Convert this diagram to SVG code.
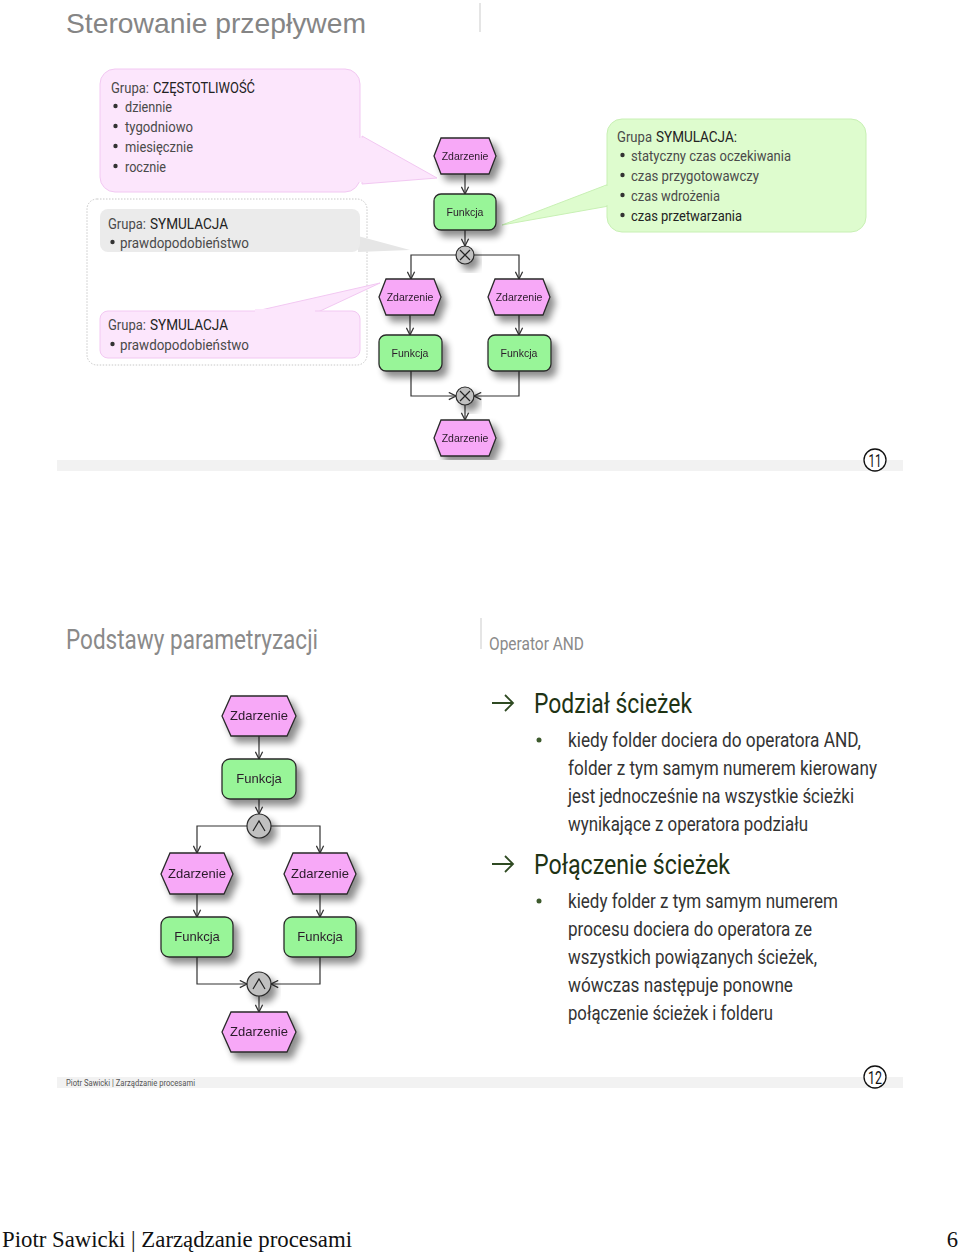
<svg xmlns="http://www.w3.org/2000/svg" width="960" height="1254" viewBox="0 0 960 1254">
<style>
.bg{fill:#ffffff}
.cond{font-family:Roboto,"Liberation Sans",sans-serif;fill:#4a4a4a;font-size:15px}
.dk{fill:#222}
.bu{fill:#333}
.ev{fill:#f7a8f7;stroke:#2a2a2a;stroke-width:1.3}
.fn{fill:#98f598;stroke:#2a2a2a;stroke-width:1.3}
.op{fill:#c0c0c0;stroke:#2a2a2a;stroke-width:1.2}
.lbl{font-family:"Liberation Sans",Arial,sans-serif;fill:#2a1a2a;text-anchor:middle}
.con{fill:none;stroke:#333333;stroke-width:1.2}
.sym{fill:none;stroke:#222;stroke-width:1.2}
.band{fill:#f2f2f2}
.body{font-family:Roboto,"Liberation Sans",sans-serif;font-size:21px;fill:#333}
.head{font-family:Roboto,"Liberation Sans",sans-serif;font-size:28px;fill:#1e3314}
</style>
<defs>
<filter id="sh" x="-30%" y="-30%" width="170%" height="180%">
<feGaussianBlur in="SourceAlpha" stdDeviation="3.5"/>
<feOffset dx="5" dy="6" result="b"/>
<feComponentTransfer><feFuncA type="linear" slope="0.45"/></feComponentTransfer>
<feMerge><feMergeNode/><feMergeNode in="SourceGraphic"/></feMerge>
</filter>
<marker id="ar" viewBox="0 0 10 10" refX="9" refY="5" markerWidth="9" markerHeight="9" markerUnits="userSpaceOnUse" orient="auto">
<path d="M1,1 L9,5 L1,9" fill="none" stroke="#333" stroke-width="1.4"/>
</marker>
</defs>
<rect class="bg" x="0" y="0" width="960" height="1254"/>

<!-- ===== Slide 11 ===== -->
<text x="66" y="33" font-family="Liberation Sans,Arial,sans-serif" font-size="28" fill="#858585" textLength="300" lengthAdjust="spacingAndGlyphs">Sterowanie przepływem</text>
<line x1="480" y1="3" x2="480" y2="32" stroke="#dddddd" stroke-width="1.5"/>

<g id="callout-czestotliwosc">
<path d="M362,136 L437,178 L362,184 Z" fill="#fce6fc" stroke="#f2c8f2" stroke-width="1"/>
<rect x="100" y="69" width="260" height="123" rx="15" fill="#fce6fc" stroke="#f2c8f2" stroke-width="1"/>
<rect x="355" y="138" width="8" height="44" fill="#fce6fc"/>
<text class="cond" x="111" y="93" textLength="38" lengthAdjust="spacingAndGlyphs">Grupa:</text>
<text class="cond dk" x="153" y="93" textLength="102" lengthAdjust="spacingAndGlyphs">CZĘSTOTLIWOŚĆ</text>
<circle class="bu" cx="115.5" cy="106" r="2.2"/><text class="cond" x="125" y="112" textLength="47" lengthAdjust="spacingAndGlyphs">dziennie</text>
<circle class="bu" cx="115.5" cy="126" r="2.2"/><text class="cond" x="125" y="132" textLength="68" lengthAdjust="spacingAndGlyphs">tygodniowo</text>
<circle class="bu" cx="115.5" cy="146" r="2.2"/><text class="cond" x="125" y="152" textLength="68" lengthAdjust="spacingAndGlyphs">miesięcznie</text>
<circle class="bu" cx="115.5" cy="166" r="2.2"/><text class="cond" x="125" y="172" textLength="41" lengthAdjust="spacingAndGlyphs">rocznie</text>
</g>

<g id="group-box">
<rect x="87" y="199" width="280" height="166" rx="10" fill="none" stroke="#c8c8c8" stroke-width="1" stroke-dasharray="1.5 1.5"/>
</g>

<g id="callout-symulacja-1">
<path d="M358,236 L410,250 L358,252 Z" fill="#e6e6e6"/>
<rect x="100" y="209" width="260" height="43" rx="8" fill="#ebebeb"/>
<text class="cond" x="108" y="229" textLength="38" lengthAdjust="spacingAndGlyphs">Grupa:</text>
<text class="cond dk" x="150" y="229" textLength="78" lengthAdjust="spacingAndGlyphs">SYMULACJA</text>
<circle class="bu" cx="112.5" cy="242" r="2.2"/><text class="cond" x="120" y="248" textLength="129" lengthAdjust="spacingAndGlyphs">prawdopodobieństwo</text>
</g>

<g id="callout-symulacja-2">
<path d="M252,312 L380,283 L318,312 Z" fill="#fce6fc" stroke="#f2c8f2" stroke-width="1"/>
<rect x="100" y="311" width="260" height="47" rx="8" fill="#fce6fc" stroke="#f2c8f2" stroke-width="1"/>
<rect x="255" y="309" width="60" height="5" fill="#fce6fc"/>
<text class="cond" x="108" y="330" textLength="38" lengthAdjust="spacingAndGlyphs">Grupa:</text>
<text class="cond dk" x="150" y="330" textLength="78" lengthAdjust="spacingAndGlyphs">SYMULACJA</text>
<circle class="bu" cx="112.5" cy="344" r="2.2"/><text class="cond" x="120" y="350" textLength="129" lengthAdjust="spacingAndGlyphs">prawdopodobieństwo</text>
</g>

<g id="callout-symulacja-3">
<path d="M609,184 L502,225 L609,206 Z" fill="#defcce" stroke="#c8f0b4" stroke-width="1"/>
<rect x="607" y="119" width="259" height="113" rx="15" fill="#defcce" stroke="#c8f0b4" stroke-width="1"/>
<rect x="604" y="186" width="8" height="19" fill="#defcce"/>
<text class="cond" x="617" y="142" textLength="35" lengthAdjust="spacingAndGlyphs">Grupa</text>
<text class="cond dk" x="656" y="142" textLength="81" lengthAdjust="spacingAndGlyphs">SYMULACJA:</text>
<circle class="bu" cx="622.5" cy="155" r="2.2"/><text class="cond" x="631" y="161" textLength="160" lengthAdjust="spacingAndGlyphs">statyczny czas oczekiwania</text>
<circle class="bu" cx="622.5" cy="175" r="2.2"/><text class="cond" x="631" y="181" textLength="128" lengthAdjust="spacingAndGlyphs">czas przygotowawczy</text>
<circle class="bu" cx="622.5" cy="195" r="2.2"/><text class="cond" x="631" y="201" textLength="89" lengthAdjust="spacingAndGlyphs">czas wdrożenia</text>
<circle class="bu" cx="622.5" cy="215" r="2.2"/><text class="cond dk" x="631" y="221" textLength="111" lengthAdjust="spacingAndGlyphs">czas przetwarzania</text>
</g>

<g id="connectors-top">
<line class="con" x1="465" y1="174" x2="465" y2="194" marker-end="url(#ar)"/>
<line class="con" x1="465" y1="230" x2="465" y2="246" marker-end="url(#ar)"/>
<path class="con" d="M456,255 H411 V279" marker-end="url(#ar)"/>
<path class="con" d="M474,255 H519 V279" marker-end="url(#ar)"/>
<line class="con" x1="410" y1="315" x2="410" y2="335" marker-end="url(#ar)"/>
<line class="con" x1="519" y1="315" x2="519" y2="335" marker-end="url(#ar)"/>
<path class="con" d="M411,371 V396 H456" marker-end="url(#ar)"/>
<path class="con" d="M519,371 V396 H474" marker-end="url(#ar)"/>
<line class="con" x1="465" y1="405" x2="465" y2="420" marker-end="url(#ar)"/>
</g>

<g id="t-ev1" filter="url(#sh)">
<polygon class="ev" points="434,156 441,138 489,138 496,156 489,174 441,174"/>
<text class="lbl" x="465" y="160" font-size="10.5">Zdarzenie</text>
</g>
<g id="t-fn1" filter="url(#sh)">
<rect class="fn" x="434" y="194" width="62" height="36" rx="7"/>
<text class="lbl" x="465" y="216" font-size="10.5">Funkcja</text>
</g>
<g id="t-xor1" filter="url(#sh)">
<circle class="op" cx="465" cy="255" r="9"/>
<path class="sym" d="M460,250 L470,260 M470,250 L460,260"/>
</g>
<g id="t-ev2" filter="url(#sh)">
<polygon class="ev" points="379,297 386,279 434,279 441,297 434,315 386,315"/>
<text class="lbl" x="410" y="301" font-size="10.5">Zdarzenie</text>
</g>
<g id="t-ev3" filter="url(#sh)">
<polygon class="ev" points="488,297 495,279 543,279 550,297 543,315 495,315"/>
<text class="lbl" x="519" y="301" font-size="10.5">Zdarzenie</text>
</g>
<g id="t-fn2" filter="url(#sh)">
<rect class="fn" x="379" y="335" width="63" height="36" rx="7"/>
<text class="lbl" x="410" y="357" font-size="10.5">Funkcja</text>
</g>
<g id="t-fn3" filter="url(#sh)">
<rect class="fn" x="488" y="335" width="63" height="36" rx="7"/>
<text class="lbl" x="519" y="357" font-size="10.5">Funkcja</text>
</g>
<g id="t-xor2" filter="url(#sh)">
<circle class="op" cx="465" cy="396" r="9"/>
<path class="sym" d="M460,391 L470,401 M470,391 L460,401"/>
</g>
<g id="t-ev4" filter="url(#sh)">
<polygon class="ev" points="434,438 441,420 489,420 496,438 489,456 441,456"/>
<text class="lbl" x="465" y="442" font-size="10.5">Zdarzenie</text>
</g>

<rect class="band" x="57" y="460" width="846" height="11"/>
<g id="num11">
<circle cx="875" cy="460" r="11" fill="#ffffff" stroke="#111" stroke-width="1.3"/>
<text x="875" y="467" font-family="Roboto,Liberation Sans,sans-serif" font-size="19" text-anchor="middle" fill="#111" textLength="13" lengthAdjust="spacingAndGlyphs">11</text>
</g>

<!-- ===== Slide 12 ===== -->
<text x="66" y="649" font-family="Roboto,Liberation Sans,sans-serif" font-size="28" fill="#8a8a8a" textLength="252" lengthAdjust="spacingAndGlyphs">Podstawy parametryzacji</text>
<line x1="481" y1="618" x2="481" y2="649" stroke="#dddddd" stroke-width="1.5"/>
<text x="489" y="650" font-family="Roboto,Liberation Sans,sans-serif" font-size="18" fill="#8a8a8a" textLength="95" lengthAdjust="spacingAndGlyphs">Operator AND</text>

<g id="connectors-bottom">
<line class="con" x1="259" y1="736" x2="259" y2="759" marker-end="url(#ar)"/>
<line class="con" x1="259" y1="799" x2="259" y2="814" marker-end="url(#ar)"/>
<path class="con" d="M247,826 H197 V853" marker-end="url(#ar)"/>
<path class="con" d="M271,826 H320 V853" marker-end="url(#ar)"/>
<line class="con" x1="197" y1="894" x2="197" y2="917" marker-end="url(#ar)"/>
<line class="con" x1="320" y1="894" x2="320" y2="917" marker-end="url(#ar)"/>
<path class="con" d="M197,957 V984 H247" marker-end="url(#ar)"/>
<path class="con" d="M320,957 V984 H271" marker-end="url(#ar)"/>
<line class="con" x1="259" y1="996" x2="259" y2="1012" marker-end="url(#ar)"/>
</g>

<g id="b-ev1" filter="url(#sh)">
<polygon class="ev" points="222,716 231,696 287,696 296,716 287,736 231,736"/>
<text class="lbl" x="259" y="720" font-size="13">Zdarzenie</text>
</g>
<g id="b-fn1" filter="url(#sh)">
<rect class="fn" x="222" y="759" width="74" height="40" rx="8"/>
<text class="lbl" x="259" y="783" font-size="13">Funkcja</text>
</g>
<g id="b-and1" filter="url(#sh)">
<circle class="op" cx="259" cy="826" r="12"/>
<path class="sym" d="M253,831 L259,821 L265,831"/>
</g>
<g id="b-ev2" filter="url(#sh)">
<polygon class="ev" points="161,874 170,853 224,853 233,874 224,894 170,894"/>
<text class="lbl" x="197" y="878" font-size="13">Zdarzenie</text>
</g>
<g id="b-ev3" filter="url(#sh)">
<polygon class="ev" points="284,874 293,853 347,853 356,874 347,894 293,894"/>
<text class="lbl" x="320" y="878" font-size="13">Zdarzenie</text>
</g>
<g id="b-fn2" filter="url(#sh)">
<rect class="fn" x="161" y="917" width="72" height="40" rx="8"/>
<text class="lbl" x="197" y="941" font-size="13">Funkcja</text>
</g>
<g id="b-fn3" filter="url(#sh)">
<rect class="fn" x="284" y="917" width="72" height="40" rx="8"/>
<text class="lbl" x="320" y="941" font-size="13">Funkcja</text>
</g>
<g id="b-and2" filter="url(#sh)">
<circle class="op" cx="259" cy="984" r="12"/>
<path class="sym" d="M253,989 L259,979 L265,989"/>
</g>
<g id="b-ev4" filter="url(#sh)">
<polygon class="ev" points="222,1032 231,1012 287,1012 296,1032 287,1052 231,1052"/>
<text class="lbl" x="259" y="1036" font-size="13">Zdarzenie</text>
</g>

<g id="text-right">
<path d="M492,703 H513 M505,695 L513,703 L505,711" fill="none" stroke="#2f4a22" stroke-width="1.8"/>
<text class="head" x="534" y="713" textLength="158" lengthAdjust="spacingAndGlyphs">Podział ścieżek</text>
<circle cx="539" cy="740" r="2.5" fill="#3d5a2d"/>
<text class="body" x="568" y="747" textLength="293" lengthAdjust="spacingAndGlyphs">kiedy folder dociera do operatora AND,</text>
<text class="body" x="568" y="775" textLength="309" lengthAdjust="spacingAndGlyphs">folder z tym samym numerem kierowany</text>
<text class="body" x="568" y="803" textLength="286" lengthAdjust="spacingAndGlyphs">jest jednocześnie na wszystkie ścieżki</text>
<text class="body" x="568" y="831" textLength="240" lengthAdjust="spacingAndGlyphs">wynikające z operatora podziału</text>
<path d="M492,864 H513 M505,856 L513,864 L505,872" fill="none" stroke="#2f4a22" stroke-width="1.8"/>
<text class="head" x="534" y="874" textLength="196" lengthAdjust="spacingAndGlyphs">Połączenie ścieżek</text>
<circle cx="539" cy="901" r="2.5" fill="#3d5a2d"/>
<text class="body" x="568" y="908" textLength="270" lengthAdjust="spacingAndGlyphs">kiedy folder z tym samym numerem</text>
<text class="body" x="568" y="936" textLength="244" lengthAdjust="spacingAndGlyphs">procesu dociera do operatora ze</text>
<text class="body" x="568" y="964" textLength="249" lengthAdjust="spacingAndGlyphs">wszystkich powiązanych ścieżek,</text>
<text class="body" x="568" y="992" textLength="225" lengthAdjust="spacingAndGlyphs">wówczas następuje ponowne</text>
<text class="body" x="568" y="1020" textLength="205" lengthAdjust="spacingAndGlyphs">połączenie ścieżek i folderu</text>
</g>

<rect class="band" x="57" y="1077" width="846" height="11"/>
<text x="66" y="1086" font-family="Roboto,Liberation Sans,sans-serif" font-size="9" fill="#555" textLength="129" lengthAdjust="spacingAndGlyphs">Piotr Sawicki | Zarządzanie procesami</text>
<g id="num12">
<circle cx="875" cy="1077" r="11" fill="#ffffff" stroke="#111" stroke-width="1.3"/>
<text x="875" y="1084" font-family="Roboto,Liberation Sans,sans-serif" font-size="19" text-anchor="middle" fill="#111" textLength="14" lengthAdjust="spacingAndGlyphs">12</text>
</g>

<text x="2" y="1247" font-family="Liberation Serif,Times New Roman,serif" font-size="22.6" fill="#111" textLength="350" lengthAdjust="spacingAndGlyphs">Piotr Sawicki | Zarządzanie procesami</text>
<text x="958" y="1247" font-family="Liberation Serif,Times New Roman,serif" font-size="22.6" fill="#111" text-anchor="end">6</text>
</svg>
